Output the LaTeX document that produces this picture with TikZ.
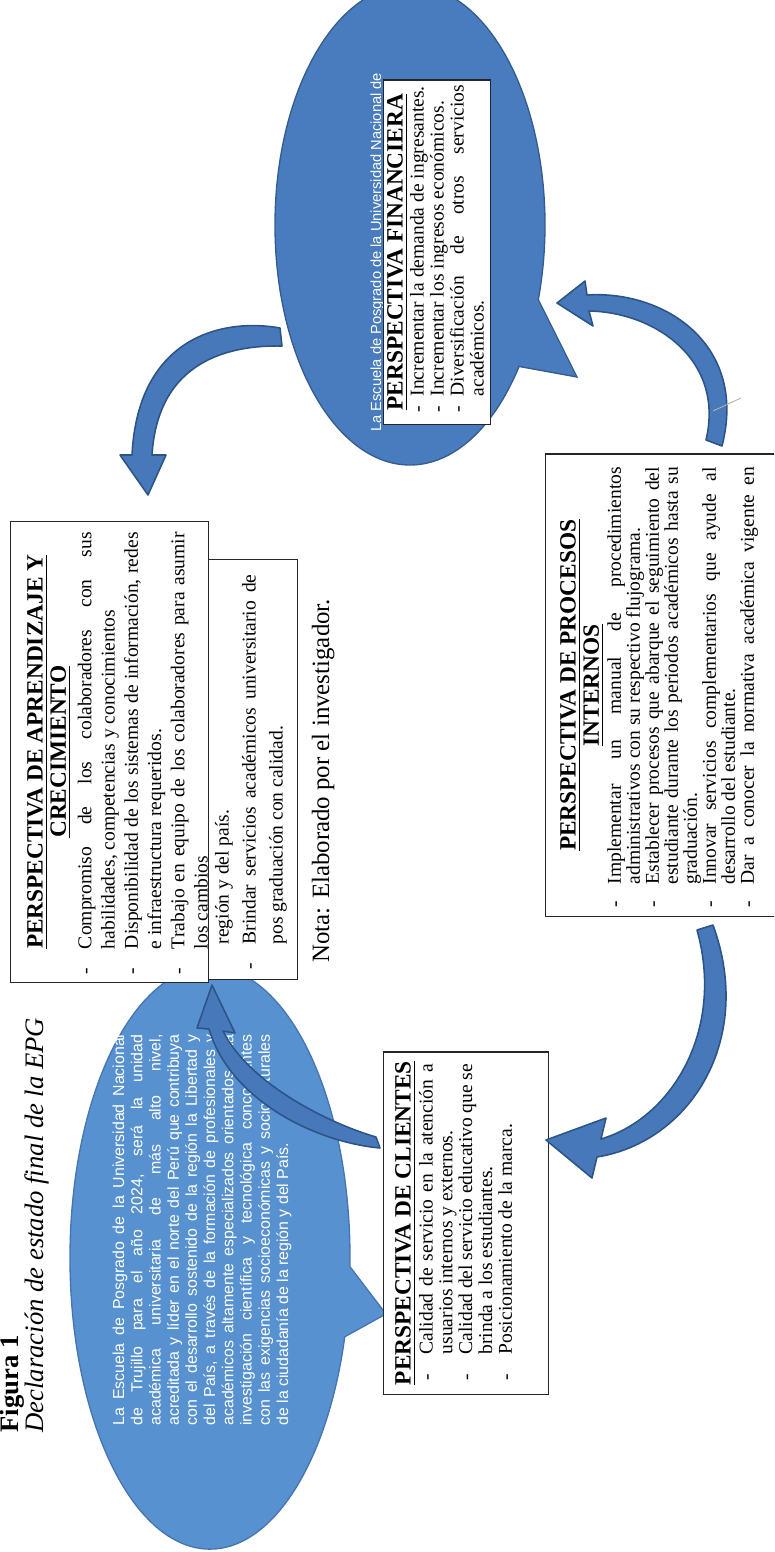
\documentclass[tikz,border=0pt]{standalone}
\usepackage{fontspec}
\setmainfont{Liberation Serif}
\newfontfamily\arialfont{Liberation Sans}
\usetikzlibrary{shapes.callouts}

\definecolor{elipseclara}{RGB}{88,145,208}
\definecolor{elipseborde}{RGB}{70,118,178}
\definecolor{elipseosc}{RGB}{72,124,190}
\definecolor{elipseoscborde}{RGB}{52,92,142}
\definecolor{flecha}{RGB}{70,120,186}
\definecolor{flechaborde}{RGB}{44,84,134}

\tolerance=9999
\hbadness=10000
\vbadness=10000
\hyphenpenalty=10000

\newlength{\guionsep}
\setlength{\guionsep}{8.5pt}
\newcommand{\guion}{\par\noindent\llap{-\hspace{\guionsep}}}
\newcommand{\cuerpo}[1]{\fontsize{8.8}{#1}\selectfont}
\newcommand{\titulo}{\fontsize{10.5}{10.4}\selectfont\bfseries}

\tikzstyle{perspbox}=[
    rotate=90,
    draw=black!85,
    fill=white,
    line width=0.6pt,
    inner sep=0pt,
    anchor=north west
]
\tikzstyle{vision}=[
    ellipse callout,
    draw=elipseborde,
    fill=elipseclara,
    line width=0.6pt,
    inner sep=0pt
]
\tikzstyle{blockarrow}=[
    fill=flecha,
    draw=flechaborde,
    line width=0.7pt,
    line join=round
]
\tikzstyle{caption}=[
    rotate=90,
    anchor=base west,
    inner sep=0pt,
    font=\fontsize{12}{14}\selectfont
]

\begin{document}
\begin{tikzpicture}[x=0.45pt,y=-0.45pt]
	\useasboundingbox (0,0) rectangle (774,1552);
	\clip (0,0) rectangle (774,1552);

	% TITLE
	\node (fig) [caption, font=\fontsize{12}{14}\selectfont\bfseries] at (18,1433) {Figura 1};
	\node (figtit) [caption, font=\fontsize{12}{14}\selectfont\itshape] at (44,1433) {Declaración de estado final de la EPG};

	% VISION CALLOUTS
	\node (vision) [vision, minimum width=126pt, minimum height=262pt,
		callout absolute pointer={(386,1314)}, callout pointer arc=14] at (210,1258) {};
	\node (visiontxt) [rotate=90, text width=176pt, align=justify, text=white, inner sep=0pt,
		font=\arialfont\fontsize{7.15}{8.2}\selectfont] at (202,1230) {%
		La Escuela de Posgrado de la Universidad Nacional\linebreak
		de Trujillo para el año 2024, será la unidad\linebreak
		académica universitaria de más alto nivel,\linebreak
		acreditada y líder en el norte del Perú que contribuya\linebreak
		con el desarrollo sostenido de la región la Libertad y\linebreak
		del País, a través de la formación de profesionales y\linebreak
		académicos altamente especializados orientados a la\linebreak
		investigación científica y tecnológica concordantes\linebreak
		con las exigencias socioeconómicas y socioculturales\linebreak
		de la ciudadanía de la región y del País.};

	\node (finell) [vision, draw=elipseoscborde, fill=elipseosc, minimum width=121.5pt, minimum height=216pt,
		callout absolute pointer={(577,377)}, callout pointer arc=18] at (410,225) {};
	\node (finelltxt) [rotate=90, anchor=base west, inner sep=0pt, text=white,
		font=\arialfont\fontsize{6.6}{7}\selectfont] at (381,432) {La Escuela de Posgrado de la Universidad Nacional de};

	% PERSPECTIVE BOXES
	\node (apr) [perspbox] at (10,983) {\parbox[c][89pt][t]{207.5pt}{%
		{\centering\titulo\rule{0pt}{14.4pt}\underline{PERSPECTIVA DE APRENDIZAJE Y}\\
		\underline{CRECIMIENTO}\par}
		\vspace{1.1pt}
		\cuerpo{10.45}\leftskip=15pt\rightskip=5pt\setlength{\guionsep}{8.5pt}
		\guion Compromiso de los colaboradores con sus\linebreak habilidades, competencias y conocimientos
		\guion Disponibilidad de los sistemas de información, redes\linebreak e infraestructura requeridos.
		\guion Trabajo en equipo de los colaboradores para asumir\linebreak los cambios\par}};

	\node (cont) [perspbox] at (208,980) {\parbox[c][40pt][t]{189pt}{%
		\cuerpo{12.15}\leftskip=15.75pt\rightskip=6.75pt\setlength{\guionsep}{8.5pt}
		\noindent\rule{0pt}{9pt}región y del país.
		\guion Brindar servicios académicos universitario de\linebreak pos graduación con calidad.\par}};

	\node (cli) [perspbox] at (383,1395) {\parbox[c][74.25pt][t]{154pt}{%
		{\centering\titulo\rule{0pt}{12.15pt}\underline{PERSPECTIVA DE CLIENTES}\par}
		\vspace{1pt}
		\cuerpo{8.9}\leftskip=18pt\rightskip=5.4pt\setlength{\guionsep}{8.9pt}
		\guion Calidad de servicio en la atención a\linebreak usuarios internos y externos.
		\guion Calidad del servicio educativo que se\linebreak brinda a los estudiantes.
		\guion Posicionamiento de la marca.\par}};

	\node (fin) [perspbox] at (383,425) {\parbox[c][48.2pt][t]{155pt}{%
		{\centering\titulo\rule{0pt}{8.55pt}\underline{PERSPECTIVA FINANCIERA}\par}
		\vspace{0.4pt}
		\cuerpo{9}\leftskip=12.6pt\rightskip=2.25pt\setlength{\guionsep}{4.4pt}
		\guion Incrementar la demanda de ingresantes.
		\guion Incrementar los ingresos económicos.
		\guion Diversificación de otros servicios\linebreak académicos.\par}};

	\node (pro) [perspbox] at (545,917) {\parbox[c][135pt][t]{208pt}{%
		{\centering\titulo\rule{0pt}{13.5pt}\underline{PERSPECTIVA DE PROCESOS}\\
		\underline{INTERNOS}\par}
		\vspace{1.4pt}
		\cuerpo{8.55}\leftskip=14.4pt\rightskip=5.85pt\setlength{\guionsep}{7.5pt}
		\guion Implementar un manual de procedimientos\linebreak administrativos con su respectivo flujograma.
		\guion Establecer procesos que abarque el seguimiento del\linebreak estudiante durante los periodos académicos hasta su\linebreak graduación.
		\guion Innovar servicios complementarios que ayude al\linebreak desarrollo del estudiante.
		\guion Dar a conocer la normativa académica vigente en\linebreak\null\par}};

	% NOTE
	\node (nota) [caption, font=\fontsize{11.2}{13}\selectfont] at (329,963) {Nota: Elaborado por el investigador.};

	% CURVED BLOCK ARROWS
	% finanzas -> aprendizaje
	\path[blockarrow] (280,328) .. controls (225,318) and (138,335) .. (132,455)
		-- (120,455) -- (148,495) -- (166,455) -- (152,455)
		.. controls (158,360) and (230,345) .. (282,346) -- cycle;
	% procesos -> finanzas
	\path[blockarrow] (589,311) -- (593,326) -- (557,303) -- (585,281) -- (587,295)
		.. controls (665,290) and (748,345) .. (722,446) -- (706,440)
		.. controls (725,360) and (655,312) .. (589,311) -- cycle;
	\draw[gray!60, line width=0.4pt] (713,411) -- (741,398);
	% procesos -> clientes
	\path[blockarrow] (601,1139) -- (606,1118) -- (546,1140) -- (592,1178) -- (597,1157)
		.. controls (690,1142) and (755,1040) .. (713,925) -- (697,930)
		.. controls (725,1030) and (672,1118) .. (601,1139) -- cycle;
	% clientes -> aprendizaje
	\path[blockarrow] (223,1031) -- (235,1033) -- (212,985) -- (197,1028) -- (209,1029)
		.. controls (230,1100) and (315,1142) .. (380,1148) -- (376,1137)
		.. controls (325,1122) and (248,1082) .. (223,1031) -- cycle;
\end{tikzpicture}
\end{document}
